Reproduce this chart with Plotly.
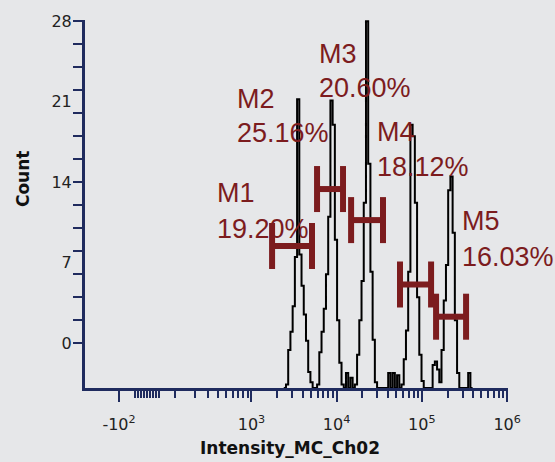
import numpy as np
import plotly.graph_objects as go

# ---------------- data ----------------
# logicle-like display (arcsinh) parameters of the intensity axis
ASINH_WIDTH = 120.0
X_RANGE = [-310, 1.024e6]           # intensity at left / right end of axis
Y_RANGE = [-3.9, 28.1]              # count axis range

# histogram: bins of equal width in display space, starting at HIST_START
HIST_START = 2400.0
BIN_T = 0.06
COUNTS_M1 = [-3.9, -3.6, -0.6, 1.0, 3.2, 7.5, 21.2, 7.7, 5.0, 2.5, 0.2, -2.5, -3.4, -3.9, -3.9]
COUNTS_M2 = [-3.6, -0.8, 1.0, 3.0, 6.0, 11.0, 21.1, 19.0, 9.0, 2.0, -1.7, -3.6, -3.9, -2.6, -3.9, -3.0, -3.9]
COUNTS_M3 = [-3.6, -1.0, 2.0, 5.4, 12.2, 28.0, 15.6, 6.2, 0.3, -3.4, -3.9, -3.9, -3.9, -3.9, -3.9,
             -2.6, -3.9, -2.6, -3.9, -2.8, -3.9]
COUNTS_M4 = [-3.6, -1.4, 1.1, 6.2, 19.0, 18.0, 12.2, 4.0, -1.0, -3.3, -3.9, -3.9, -3.9, -3.9]
COUNTS_M5 = [-1.9, -1.6, -2.3, -3.4, -0.6, 3.7, 6.8, 13.3, 14.5, 9.6, 2.0, -2.6, -3.9, -3.9, -3.9,
             -3.9, -2.6, -3.9]

# gates
GATE_NAMES = ["M1", "M2", "M3", "M4", "M5"]
GATE_PCTS = ["19.20%", "25.16%", "20.60%", "18.12%", "16.03%"]
GATE_LO = [1750, 5900, 14800, 55400, 146800]
GATE_HI = [5150, 11900, 35000, 128300, 330000]
GATE_Y = [8.45, 13.4, 10.7, 5.1, 2.3]

# ticks
X_TICK_VALUES = [-100, 1e3, 1e4, 1e5, 1e6]
X_TICK_TEXT = ["-10<sup>2</sup>", "10<sup>3</sup>", "10<sup>4</sup>", "10<sup>5</sup>", "10<sup>6</sup>"]
X_MINOR_VALUES = ([-40, -30, -20, -10, 0, 10, 20, 30, 40]
                  + [100, 200, 300, 400, 500, 600, 700, 800, 900]
                  + [m * 10 ** e for e in (3, 4, 5) for m in range(2, 10)])
Y_TICK_VALUES = [0, 7, 14, 21, 28]
Y_TICK_TEXT = ["0", "7", "14", "21", "28"]
Y_MARK_VALUES = list(range(0, 29, 2))

X_TITLE = "Intensity_MC_Ch02"
Y_TITLE = "Count"

# ---------------- style ----------------
BG = "#e6e7e9"
NAVY = "#1f2b5e"
RED = "#7c1c1e"
CAP_HALF = 2.0


def T(v):
    return np.arcsinh(np.asarray(v, dtype=float) / ASINH_WIDTH)


counts = np.array(COUNTS_M1 + COUNTS_M2 + COUNTS_M3 + COUNTS_M4 + COUNTS_M5)
edges = T(HIST_START) + BIN_T * np.arange(len(counts) + 1)
hx = np.append(edges[:-1], edges[-1])
hy = np.append(counts, counts[-1])

fig = go.Figure()
fig.add_trace(go.Scatter(x=hx, y=hy, mode="lines",
                         line=dict(color="black", width=2, shape="hv"),
                         showlegend=False, hoverinfo="skip"))

gx, gy = [], []
for lo, hi, yv in zip(GATE_LO, GATE_HI, GATE_Y):
    tl, th = float(T(lo)), float(T(hi))
    gx += [tl, th, None, tl, tl, None, th, th, None]
    gy += [yv, yv, None, yv - CAP_HALF, yv + CAP_HALF, None, yv - CAP_HALF, yv + CAP_HALF, None]
fig.add_trace(go.Scatter(x=gx, y=gy, mode="lines", line=dict(color=RED, width=6),
                         showlegend=False, hoverinfo="skip"))
fig.add_trace(go.Scatter(x=[None], y=[None], yaxis="y2", showlegend=False, hoverinfo="skip"))

tickfont = dict(family="DejaVu Sans", size=16, color="#222222")
fig.update_layout(
    width=555, height=462,
    margin=dict(l=85, r=47, t=12, b=74),
    paper_bgcolor=BG, plot_bgcolor=BG,
    xaxis=dict(range=[float(T(X_RANGE[0])), float(T(X_RANGE[1]))],
               showline=True, linecolor=NAVY, linewidth=3,
               showgrid=False, zeroline=False,
               tickmode="array", tickvals=list(T(X_TICK_VALUES)), ticktext=X_TICK_TEXT,
               ticks="outside", ticklen=11, tickwidth=2, tickcolor=NAVY,
               minor=dict(tickmode="array", tickvals=list(T(X_MINOR_VALUES)),
                          ticks="outside", ticklen=7, tickwidth=2, tickcolor=NAVY),
               tickfont=tickfont, ticklabelstandoff=9, ticklabeloverflow="allow"),
    yaxis=dict(range=Y_RANGE, showline=True, linecolor=NAVY, linewidth=3,
               showgrid=False, zeroline=False,
               tickmode="array", tickvals=Y_MARK_VALUES, showticklabels=False,
               ticks="outside", ticklen=9, tickwidth=2, tickcolor=NAVY),
    yaxis2=dict(range=Y_RANGE, overlaying="y", side="left", anchor="x",
                showline=False, showgrid=False, zeroline=False,
                tickmode="array", tickvals=Y_TICK_VALUES, ticktext=Y_TICK_TEXT,
                ticks="outside", ticklen=9, tickcolor="rgba(0,0,0,0)",
                tickfont=tickfont, ticklabeloverflow="allow"),
)

# gate labels (paper coordinates)
LABEL_POS = [(0.307, 0.529, 0.431), (0.355, 0.785, 0.692), (0.548, 0.907, 0.814),
             (0.686, 0.697, 0.601), (0.886, 0.455, 0.356)]
lab_font = dict(family="Liberation Sans, Arial", size=27, color=RED)
for name, pct, (xp, y1, y2) in zip(GATE_NAMES, GATE_PCTS, LABEL_POS):
    fig.add_annotation(x=xp, y=y1, xref="paper", yref="paper", text=name, showarrow=False,
                       xanchor="left", yanchor="middle", font=lab_font)
    fig.add_annotation(x=xp, y=y2, xref="paper", yref="paper", text=pct, showarrow=False,
                       xanchor="left", yanchor="middle", font=lab_font)

title_font = dict(family="DejaVu Sans", size=17, color="#111111")
fig.add_annotation(x=-0.1466, y=0.5705, xref="paper", yref="paper", text="<b>" + Y_TITLE + "</b>",
                   textangle=-90, showarrow=False, xanchor="center", yanchor="middle", font=title_font)
fig.add_annotation(x=0.4835, y=-0.162, xref="paper", yref="paper", text="<b>" + X_TITLE + "</b>",
                   showarrow=False, xanchor="center", yanchor="middle", font=title_font)

# remove the browser's default 8px body margin so the figure fills the window
fig.write_html("out.html",
               config={"displayModeBar": False},
               post_script="document.body.style.margin='0px';"
                           "document.body.style.background='" + BG + "';")
